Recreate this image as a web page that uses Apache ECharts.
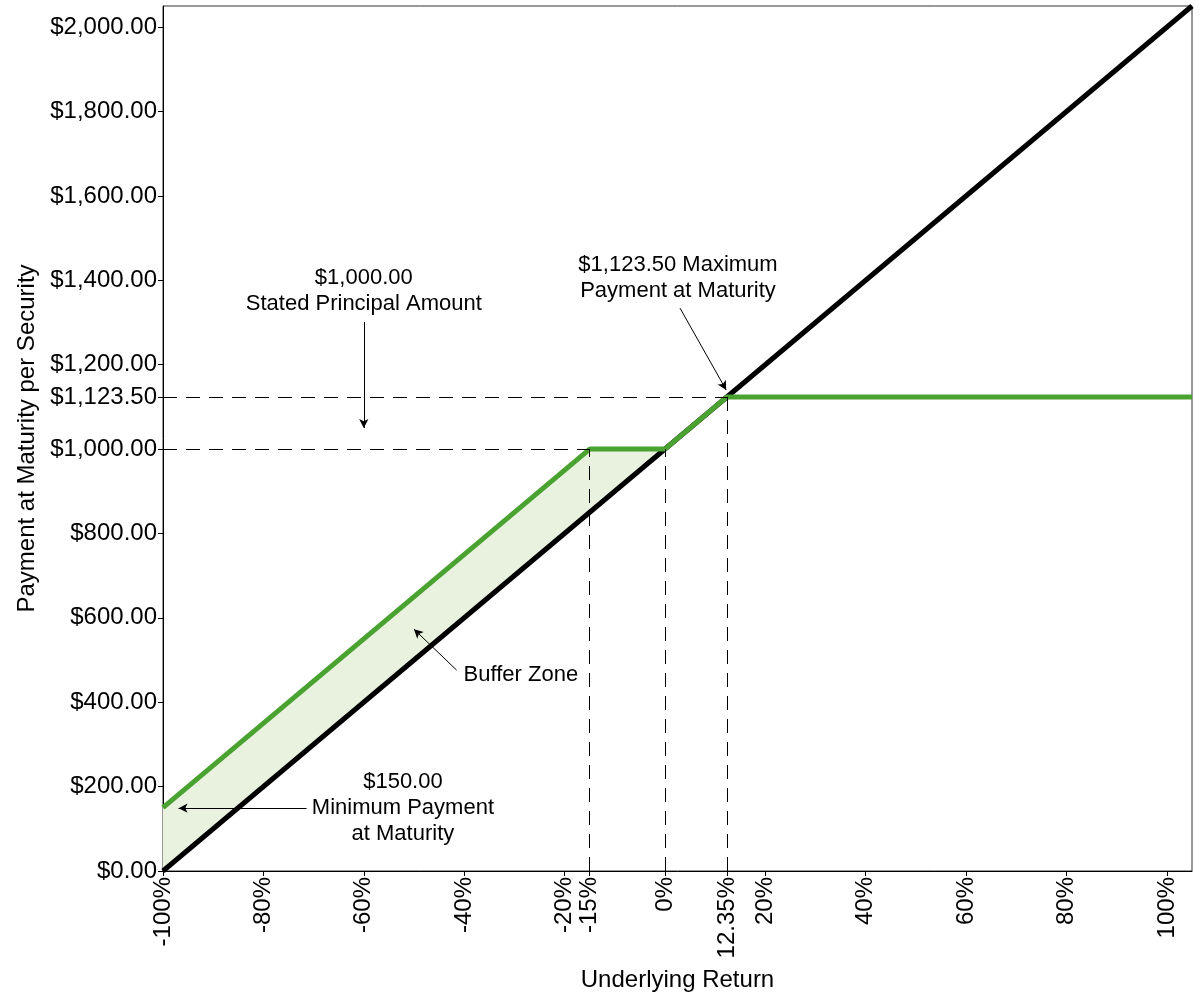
<!DOCTYPE html>
<html>
<head>
<meta charset="utf-8">
<script src="https://cdn.jsdelivr.net/npm/echarts@6/dist/echarts.min.js"></script>
<style>html,body{margin:0;padding:0;background:#fff}#chart{width:1200px;height:1000px}</style>
</head>
<body>
<div id="chart"></div>
<script>
var xTicks = [-100, -80, -60, -40, -20, -15, 0, 12.35, 20, 40, 60, 80, 100];
var yTicks = [0, 200, 400, 600, 800, 1000, 1123.5, 1200, 1400, 1600, 1800, 2000];

// underlying (black) and security payment (green)
var underlyingX = [-100, 105];
var underlyingY = [0, 2050];
var securityX = [-100, -15, 0, 12.35, 105];
var securityY = [150, 1000, 1000, 1123.5, 1123.5];

// buffer zone between the two lines
var bufferX = [-100, -15, 0];
var bufferTop = [150, 1000, 1000];
var bufferBottom = [0, 850, 1000];

// dashed guides: x1, y1, x2, y2
var guides = [
	[-100, 1000, -15, 1000],
	[-100, 1123.5, 12.35, 1123.5],
	[-15, 0, -15, 1000],
	[0, 0, 0, 1000],
	[12.35, 0, 12.35, 1123.5]
];

var notes = ['$1,000.00\nStated Principal Amount', '$1,123.50 Maximum\nPayment at Maturity', 'Buffer Zone', '$150.00\nMinimum Payment\nat Maturity'];
var noteX = [-60, 2.6, -28.7, -52.2];
var noteY = [1374, 1405, 464, 149];
var arrows = [
	[-60, 1301, -60, 1050],
	[3.0, 1334, 12.2, 1140],
	[-41.5, 476, -50, 573],
	[-71.4, 149, -96.9, 149]
];

var font = 'Liberation Sans, Arial, sans-serif';

function zip(xs, ys) {
	return xs.map(function(x, i) { return [x, ys[i]]; });
}

var myChart = echarts.init(document.getElementById('chart'));

myChart.setOption({
	animation: false,
	backgroundColor: '#fff',
	textStyle: { fontFamily: font },
	grid: {
		left: 163, right: 8, top: 6, bottom: 129,
		show: true, borderColor: '#333', borderWidth: 1,
		outerBoundsMode: 'none'
	},
	xAxis: {
		type: 'value', min: -100, max: 105,
		name: 'Underlying Return', nameLocation: 'middle', nameGap: 97,
		nameTextStyle: { fontSize: 24, color: '#000', fontFamily: font },
		axisLine: { show: true, onZero: false, lineStyle: { color: '#000', width: 1 } },
		axisTick: { show: true, length: 5, lineStyle: { color: '#000' }, customValues: xTicks },
		axisLabel: {
			rotate: 90, margin: 6, fontSize: 24, color: '#000', fontFamily: font,
			customValues: xTicks,
			formatter: function(v) { return v + '%'; }
		},
		splitLine: { show: false }
	},
	yAxis: {
		type: 'value', min: 0, max: 2050,
		name: 'Payment at Maturity per Security', nameLocation: 'middle', nameGap: 122,
		nameTextStyle: { fontSize: 24, color: '#000', fontFamily: font },
		axisLine: { show: true, onZero: false, lineStyle: { color: '#000', width: 1 } },
		axisTick: { show: true, length: 5, lineStyle: { color: '#000' }, customValues: yTicks },
		axisLabel: {
			margin: 6, fontSize: 24, color: '#000', fontFamily: font,
			customValues: yTicks,
			formatter: function(v) {
				return '$' + v.toLocaleString('en-US', { minimumFractionDigits: 2, maximumFractionDigits: 2 });
			}
		},
		splitLine: { show: false }
	},
	series: [{
		type: 'custom',
		name: 'buffer',
		silent: true,
		z: 1,
		data: zip(bufferX, bufferTop),
		renderItem: function(params, api) {
			if (params.dataIndex !== 0) return;
			var pts = [];
			for (var i = 0; i < bufferX.length; i++) pts.push(api.coord([bufferX[i], bufferTop[i]]));
			for (var j = bufferX.length - 1; j >= 0; j--) pts.push(api.coord([bufferX[j], bufferBottom[j]]));
			return { type: 'polygon', shape: { points: pts }, style: { fill: '#e9f2df' } };
		}
	}, {
		type: 'line',
		name: 'guides',
		silent: true,
		z: 2,
		data: [],
		markLine: {
			silent: true,
			symbol: ['none', 'none'],
			label: { show: false },
			lineStyle: { color: '#000', width: 1, type: [14, 9] },
			data: guides.map(function(g) { return [{ coord: [g[0], g[1]] }, { coord: [g[2], g[3]] }]; })
		}
	}, {
		type: 'line',
		name: 'Underlying',
		silent: true,
		z: 3,
		symbol: 'none',
		lineStyle: { color: '#000', width: 5 },
		data: zip(underlyingX, underlyingY)
	}, {
		type: 'line',
		name: 'Security',
		silent: true,
		z: 4,
		symbol: 'none',
		lineStyle: { color: '#4aa330', width: 5 },
		data: zip(securityX, securityY)
	}, {
		type: 'line',
		name: 'arrows',
		silent: true,
		z: 5,
		data: [],
		markLine: {
			silent: true,
			symbol: ['none', 'arrow'],
			symbolSize: [7, 9],
			label: { show: false },
			lineStyle: { color: '#000', width: 1, type: 'solid' },
			data: arrows.map(function(a) { return [{ coord: [a[0], a[1]] }, { coord: [a[2], a[3]] }]; })
		}
	}, {
		type: 'scatter',
		name: 'notes',
		silent: true,
		z: 6,
		symbolSize: 0,
		itemStyle: { opacity: 1 },
		data: notes.map(function(t, i) { return { name: t, value: [noteX[i], noteY[i]] }; }),
		label: {
			show: true, position: 'inside', formatter: '{b}',
			fontSize: 22, lineHeight: 26, color: '#000', fontFamily: font, align: 'center'
		}
	}]
});
</script>
</body>
</html>
